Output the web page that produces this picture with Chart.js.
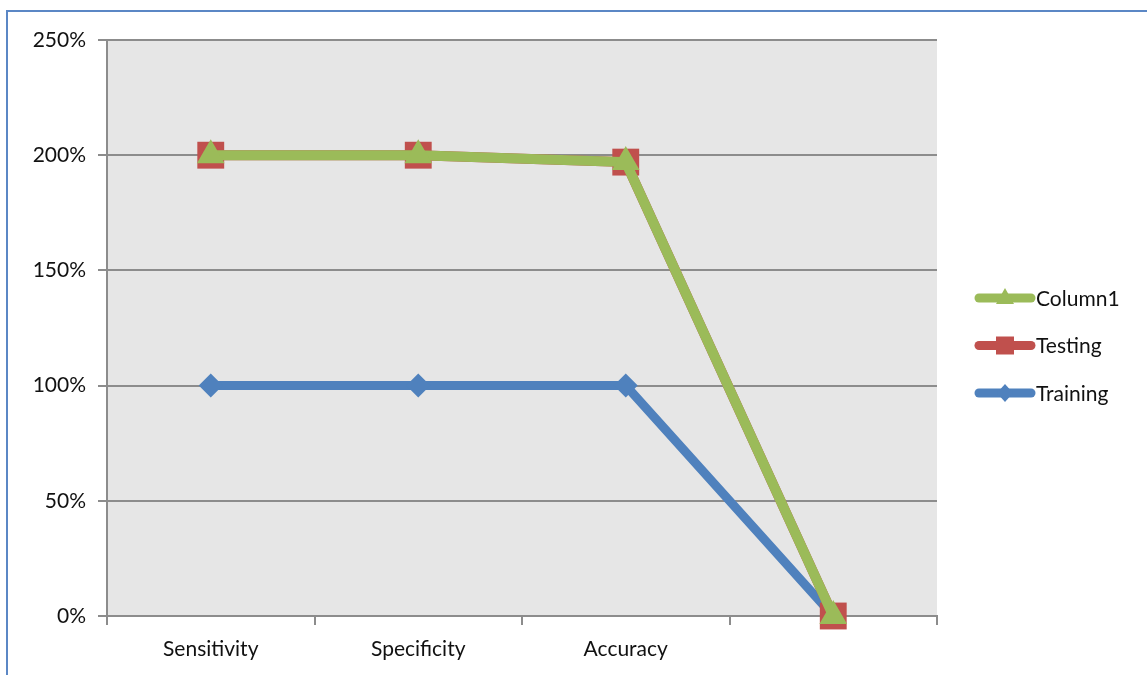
<!DOCTYPE html>
<html>
<head>
<meta charset="utf-8">
<script src="https://cdn.jsdelivr.net/npm/chart.js@4"></script>
<style>
  html, body { margin: 0; padding: 0; background: #fff; }
  #wrap { position: relative; width: 1147px; height: 675px; }
</style>
</head>
<body>
<div id="wrap"><canvas id="chart" width="1147" height="675"></canvas></div>
<script>
// categories (4th one has no label in the original)
const categories = ['Sensitivity', 'Specificity', 'Accuracy', ''];
// series values, in percent (Excel stacked line chart)
const training = [100, 100, 100, 0];
const testing = [100, 100, 97, 0];
const column1 = [0, 0, 0, 0];
const yTicks = [0, 50, 100, 150, 200, 250];

// stacked totals, same as excel draws them
const testingStacked = testing.map((v, i) => v + training[i]);
const column1Stacked = column1.map((v, i) => v + testingStacked[i]);

const FONT = 'Lato, "Open Sans", sans-serif';

// grey plot area + blue frame round the picture
const frame = {
    id: 'frame',
    beforeDraw(chart) {
        const { ctx, chartArea: a } = chart;
        ctx.save();
        ctx.fillStyle = '#e6e6e6';
        ctx.fillRect(a.left, a.top, a.right - a.left, a.bottom - a.top);
        ctx.strokeStyle = '#5b87c5';
        ctx.lineWidth = 2;
        ctx.beginPath();
        ctx.moveTo(7, 675);
        ctx.lineTo(7, 11);
        ctx.lineTo(1147, 11);
        ctx.stroke();
        ctx.restore();
    }
};

// legend drawn by hand: line with the marker in the middle
const sideLegend = {
    id: 'sideLegend',
    afterDraw(chart) {
        const { ctx } = chart;
        ctx.save();
        chart.data.datasets.forEach((ds, i) => {
            const y = 298 + i * 47.5;
            ctx.strokeStyle = ds.borderColor;
            ctx.lineWidth = 9;
            ctx.lineCap = 'round';
            ctx.beginPath();
            ctx.moveTo(979, y);
            ctx.lineTo(1031, y);
            ctx.stroke();
            ctx.fillStyle = ds.borderColor;
            ctx.beginPath();
            if (ds.pointStyle === 'triangle') {
                ctx.moveTo(1005, y - 10);
                ctx.lineTo(1014, y + 6);
                ctx.lineTo(996, y + 6);
            } else if (ds.pointStyle === 'rect') {
                ctx.rect(996, y - 9, 18, 18);
            } else {
                ctx.moveTo(1005, y - 9);
                ctx.lineTo(1013, y);
                ctx.lineTo(1005, y + 9);
                ctx.lineTo(997, y);
            }
            ctx.fill();
            ctx.fillStyle = '#111';
            ctx.font = '21px ' + FONT;
            ctx.textBaseline = 'middle';
            ctx.fillText(ds.label, 1036, y + 1);
        });
        ctx.restore();
    }
};

new Chart(document.getElementById('chart'), {
    type: 'line',
    data: {
        labels: categories,
        datasets: [
            {
                label: 'Column1',
                data: column1Stacked,
                borderColor: '#9bbb59',
                backgroundColor: '#9bbb59',
                borderWidth: 10,
                pointStyle: 'triangle',
                pointRadius: 16,
                pointBorderWidth: 0,
                clip: false
            },
            {
                label: 'Testing',
                data: testingStacked,
                borderColor: '#c0504d',
                backgroundColor: '#c0504d',
                borderWidth: 10,
                pointStyle: 'rect',
                pointRadius: 19,
                pointBorderWidth: 0,
                clip: false
            },
            {
                label: 'Training',
                data: training,
                borderColor: '#4f81bd',
                backgroundColor: '#4f81bd',
                borderWidth: 9,
                pointStyle: 'rectRot',
                pointRadius: 12,
                pointBorderWidth: 0,
                clip: false
            }
        ]
    },
    options: {
        responsive: false,
        animation: false,
        layout: { padding: { top: 40, right: 210, left: 0, bottom: 0 } },
        plugins: {
            legend: { display: false },
            tooltip: { enabled: false }
        },
        scales: {
            x: {
                offset: true,
                afterFit(scale) { scale.height = 59; },
                grid: {
                    offset: true,
                    drawOnChartArea: false,
                    drawTicks: true,
                    tickLength: 9,
                    color: '#8c8c8c',
                    lineWidth: 2
                },
                border: { color: '#8c8c8c', width: 2 },
                ticks: {
                    color: '#111',
                    font: { family: FONT, size: 21 },
                    padding: 12,
                    maxRotation: 0
                }
            },
            y: {
                min: 0,
                max: 250,
                afterFit(scale) { scale.width = 107; },
                afterBuildTicks(scale) { scale.ticks = yTicks.map(v => ({ value: v })); },
                grid: {
                    color: '#8c8c8c',
                    lineWidth: 2,
                    drawTicks: true,
                    tickLength: 9
                },
                border: { color: '#8c8c8c', width: 2 },
                ticks: {
                    color: '#111',
                    font: { family: FONT, size: 21 },
                    padding: 12,
                    callback: v => v + '%'
                }
            }
        }
    },
    plugins: [frame, sideLegend]
});
</script>
</body>
</html>
